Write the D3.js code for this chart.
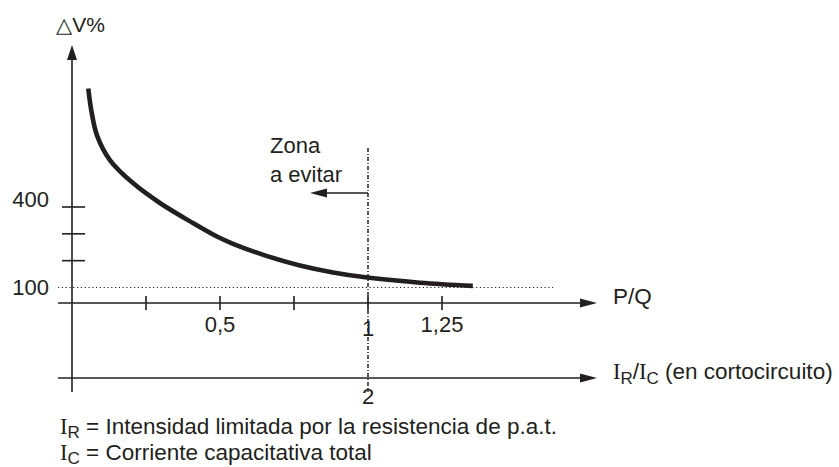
<!DOCTYPE html>
<meta charset="utf-8">
<title>ΔV% en función de P/Q</title>
<style>
*{
  margin: 0;
  padding: 0;
}
body{
  background: #fff;
}
svg text{
  font-family: "Liberation Sans", Arial, sans-serif;
  fill: #231f20;
}
.serif{
  font-family: "Liberation Serif", "Times New Roman", serif;
}
</style>
<body>
<script src="https://cdnjs.cloudflare.com/ajax/libs/d3/7.8.5/d3.min.js"></script>
<div id="chart"></div>
<script>

// valores
var pqTicks = [0.25, 0.5, 0.75, 1, 1.25];
var pqLabels = ["", "0,5", "", "1", "1,25"];
var dvTicks = [200, 300, 400];
var dvLabelValues = [100, 400];
var dvLabels = ["100", "400"];
var curvePQ = [0.055, 0.066, 0.085, 0.128, 0.206, 0.297, 0.409, 0.493, 0.544, 0.659, 0.770, 0.882, 0.997, 1.176, 1.354];
var curveDV = [842, 755, 665, 575, 489, 415, 340, 288, 263, 217, 182, 156, 137, 118, 106];
var limitPQ = 1;
var limitRatio = "2";
var refDV = 100;

var width = 839, height = 467;
var ink = "#231f20";

var x = d3.scaleLinear().domain([0, 1]).range([72, 368]);
var y = d3.scaleLinear().domain([100, 400]).range([287.5, 207]);

var axisY = 303, axis2Y = 378;

var svg = d3.select("#chart").append("svg")
    .attr("width", width)
    .attr("height", height);

function arrowHead(tx, ty, dir, len, half){
  // dir: 'right', 'left', 'up'
  var p;
  if(dir == 'right') p = [[tx, ty], [tx - len, ty - half], [tx - len, ty + half]];
  else if(dir == 'left') p = [[tx, ty], [tx + len, ty - half], [tx + len, ty + half]];
  else p = [[tx, ty], [tx - half, ty + len], [tx + half, ty + len]];
  svg.append("path")
    .attr("d", "M" + p.join("L") + "Z")
    .attr("fill", ink);
}

/* linea de referencia 100 % */
svg.append("line")
  .attr("x1", 58).attr("x2", 553)
  .attr("y1", y(refDV)).attr("y2", y(refDV))
  .attr("stroke", ink)
  .attr("stroke-width", 1.2)
  .attr("stroke-dasharray", "1.2,2.6");

/* linea limite P/Q = 1 */
svg.append("line")
  .attr("x1", x(limitPQ)).attr("x2", x(limitPQ))
  .attr("y1", 148).attr("y2", 392)
  .attr("stroke", ink)
  .attr("stroke-width", 1.5)
  .attr("stroke-dasharray", "4,2,1,2");

/* eje vertical */
svg.append("line")
  .attr("x1", x(0)).attr("x2", x(0))
  .attr("y1", 392).attr("y2", 58)
  .attr("stroke", ink).attr("stroke-width", 1.6);
arrowHead(x(0), 45, 'up', 15, 5);

svg.selectAll(".ytick")
  .data(dvTicks)
  .enter().append("line")
  .attr("class", "ytick")
  .attr("x1", 62).attr("x2", 85)
  .attr("y1", function(d){ return y(d); })
  .attr("y2", function(d){ return y(d); })
  .attr("stroke", ink).attr("stroke-width", 1.6);

svg.selectAll(".ylabel")
  .data(dvLabelValues)
  .enter().append("text")
  .attr("class", "ylabel")
  .attr("x", 49)
  .attr("y", function(d){ return y(d); })
  .attr("dy", function(d){ return d == 400 ? "0" : "0.35em"; })
  .attr("text-anchor", "end")
  .style("font-size", "22px")
  .text(function(d, i){ return dvLabels[i]; });

svg.append("text")
  .attr("x", 56).attr("y", 32)
  .style("font-size", "21px")
  .html('<tspan style="font-family:\'DejaVu Sans\'">△</tspan>V%');

/* eje P/Q */
svg.append("line")
  .attr("x1", 58).attr("x2", 582)
  .attr("y1", axisY).attr("y2", axisY)
  .attr("stroke", ink).attr("stroke-width", 1.6);
arrowHead(597, axisY, 'right', 17, 4.5);

svg.selectAll(".xtick")
  .data(pqTicks)
  .enter().append("line")
  .attr("class", "xtick")
  .attr("x1", function(d){ return x(d); })
  .attr("x2", function(d){ return x(d); })
  .attr("y1", axisY - 7).attr("y2", axisY + 7)
  .attr("stroke", ink).attr("stroke-width", 1.6);

svg.selectAll(".xlabel")
  .data(pqTicks)
  .enter().append("text")
  .attr("class", "xlabel")
  .attr("x", function(d){ return x(d); })
  .attr("y", function(d){ return d == 1 ? axisY + 33 : axisY + 29; })
  .attr("text-anchor", "middle")
  .style("font-size", "22px")
  .text(function(d, i){ return pqLabels[i]; });

svg.append("text")
  .attr("x", 613).attr("y", axisY + 1)
  .style("font-size", "22.5px")
  .text("P/Q");

/* eje IR/IC */
svg.append("line")
  .attr("x1", 58).attr("x2", 582)
  .attr("y1", axis2Y).attr("y2", axis2Y)
  .attr("stroke", ink).attr("stroke-width", 1.6);
arrowHead(597, axis2Y, 'right', 17, 4.5);

svg.append("text")
  .attr("x", x(limitPQ))
  .attr("y", axis2Y + 26)
  .attr("text-anchor", "middle")
  .style("font-size", "22px")
  .text(limitRatio);

var ratioText = svg.append("text")
  .attr("x", 613).attr("y", axis2Y + 1)
  .style("font-size", "22.5px");
ratioText.append("tspan").attr("class", "serif").text("I");
ratioText.append("tspan").attr("dy", 5).style("font-size", "17px").text("R");
ratioText.append("tspan").attr("dy", -5).text("/");
ratioText.append("tspan").attr("class", "serif").text("I");
ratioText.append("tspan").attr("dy", 5).style("font-size", "17px").text("C");
ratioText.append("tspan").attr("dy", -5).text(" (en cortocircuito)");

/* zona a evitar */
svg.append("text")
  .attr("x", 270).attr("y", 153)
  .style("font-size", "22px")
  .text("Zona");
svg.append("text")
  .attr("x", 270).attr("y", 182)
  .style("font-size", "22px")
  .text("a evitar");
svg.append("line")
  .attr("x1", x(limitPQ)).attr("x2", 324)
  .attr("y1", 193).attr("y2", 193)
  .attr("stroke", ink).attr("stroke-width", 1.6);
arrowHead(310, 193, 'left', 17, 4.5);

/* curva */
var curve = d3.line()
  .x(function(d){ return x(d[0]); })
  .y(function(d){ return y(d[1]); })
  .curve(d3.curveCatmullRom.alpha(0.5));

svg.append("path")
  .datum(d3.zip(curvePQ, curveDV))
  .attr("d", curve)
  .attr("fill", "none")
  .attr("stroke", ink)
  .attr("stroke-width", 4.6);

/* notas */
var notes = [["R", " = Intensidad limitada por la resistencia de p.a.t."],
             ["C", " = Corriente capacitativa total"]];
notes.forEach(function(n, i){
  var t = svg.append("text")
    .attr("x", 60).attr("y", 434 + i * 26)
    .style("font-size", "22.5px");
  t.append("tspan").attr("class", "serif").text("I");
  t.append("tspan").attr("dy", 4).style("font-size", "17px").text(n[0]);
  t.append("tspan").attr("dy", -4).text(n[1]);
});

</script>
</body>
</html>
